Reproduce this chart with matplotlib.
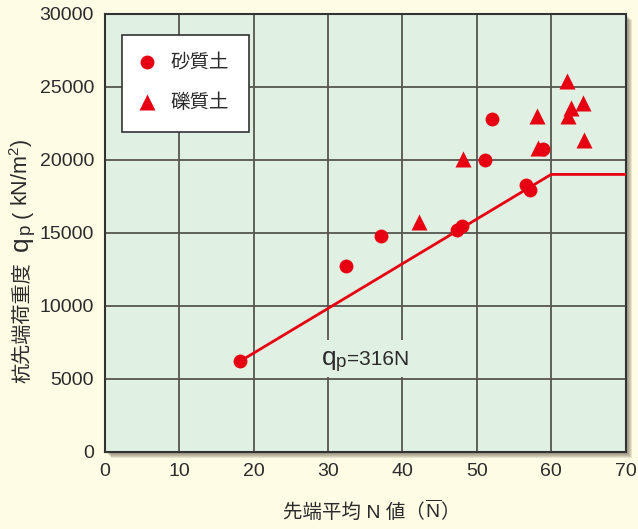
import matplotlib
matplotlib.use('Agg')
import matplotlib.pyplot as plt
from matplotlib.patches import Rectangle
from matplotlib.lines import Line2D

plt.rcParams['font.family'] = ['Liberation Sans', 'Noto Sans CJK JP']
plt.rcParams['mathtext.fontset'] = 'custom'
plt.rcParams['mathtext.rm'] = 'Liberation Sans'
plt.rcParams['mathtext.it'] = 'Liberation Sans:italic'

# data
sand_n = [18.2, 32.4, 37.1, 47.3, 48.0, 51.1, 52.0, 56.6, 57.2, 58.9]
sand_qp = [6200, 12700, 14800, 15200, 15450, 19980, 22800, 18300, 17930, 20720]
gravel_n = [42.2, 48.1, 58.1, 58.2, 62.1, 62.3, 62.7, 64.3, 64.4]
gravel_qp = [15740, 20090, 22990, 20780, 25430, 23000, 23530, 23880, 21380]
line_n = [18.2, 60, 70]
line_qp = [6200, 19000, 19000]

x_ticks = [0, 10, 20, 30, 40, 50, 60, 70]
y_ticks = [0, 5000, 10000, 15000, 20000, 25000, 30000]

RED = '#e60012'
BG = '#fffce6'
PLOT_BG = '#e0f0e3'
GRID = '#56564f'
TXT = '#2b2b2b'

W, H = 638, 529
fig = plt.figure(figsize=(W / 100, H / 100), dpi=100, facecolor=BG)

# plot frame in pixels (from top-left)
x0, x1, yt, yb = 105, 625.5, 14, 451.5
ax = fig.add_axes([x0 / W, 1 - yb / H, (x1 - x0) / W, (yb - yt) / H])
ax.set_facecolor(PLOT_BG)

# drop shadow right/bottom
for k in range(1, 7):
    fig.patches.append(Rectangle(((x0 + k) / W, 1 - (yb + k) / H), (x1 - x0) / W, (yb - yt) / H,
                                 transform=fig.transFigure, facecolor='#4a3f2a', alpha=0.13,
                                 edgecolor='none', zorder=-1))

ax.set_xlim(0, 70)
ax.set_ylim(0, 30000)
ax.set_xticks(x_ticks)
ax.set_yticks(y_ticks)
ax.tick_params(length=0, pad=8, labelsize=14, labelcolor=TXT)
ax.grid(True, color=GRID, lw=1.3)
ax.set_axisbelow(True)
for s in ax.spines.values():
    s.set_color('#333333')
    s.set_linewidth(1.5)

ax.plot(line_n, line_qp, color=RED, lw=2, zorder=3)
ax.plot(sand_n, sand_qp, 'o', ms=10, color=RED, mec='none', zorder=4)
ax.plot(gravel_n, gravel_qp, '^', ms=11, color=RED, mec='none', zorder=4, clip_on=False)

# label for the line, on a patch hiding the grid
ax.add_patch(Rectangle((28.6, 5110), 13.2, 2540, facecolor=PLOT_BG, edgecolor='none', zorder=1))
ax.text(29.1, 5930, 'q', fontsize=19, color=TXT, va='baseline', zorder=5)
ax.text(31.0, 5790, 'p', fontsize=13.5, color=TXT, va='baseline', zorder=5)
ax.text(32.6, 5930, '=316N', fontsize=15, color=TXT, va='baseline', zorder=5)

handles = [Line2D([], [], ls='none', marker='o', ms=10, color=RED, mec='none', label='砂質土'),
           Line2D([], [], ls='none', marker='^', ms=11, color=RED, mec='none', label='礫質土')]
leg = ax.legend(handles=handles, loc='upper left',
                bbox_to_anchor=((122 - x0) / (x1 - x0), (yb - 35) / (yb - yt)),
                borderaxespad=0, fancybox=False, edgecolor='#333333', facecolor='white',
                framealpha=1, fontsize=14, handlelength=0.6, handletextpad=0.9,
                borderpad=1.0, labelspacing=1.1)
leg.get_frame().set_linewidth(1.2)
for t in leg.get_texts():
    t.set_color(TXT)

# y label pieces (rotated)
def ytxt(ypix, s, size, dx=0):
    fig.text((28 + dx) / W, 1 - ypix / H, s, fontsize=size, color=TXT, rotation=90,
             rotation_mode='anchor', ha='left', va='baseline')

ytxt(383, '杭先端荷重度', 14.5)
ytxt(251, 'q', 19)
ytxt(234, 'p', 13.5, dx=2)
ytxt(218, '(', 15.5)
ytxt(206, r'kN/m$^2$)', 15.5)

# x label pieces
def xtxt(xpix, s, size=14):
    fig.text(xpix / W, 1 - 518 / H, s, fontsize=size, color=TXT, ha='left', va='baseline')

xtxt(283, '先端平均 N 値（')
xtxt(425, r'$\overline{\mathrm{N}}$')
xtxt(440, '）')

fig.savefig('out.png', dpi=100, facecolor=BG)
